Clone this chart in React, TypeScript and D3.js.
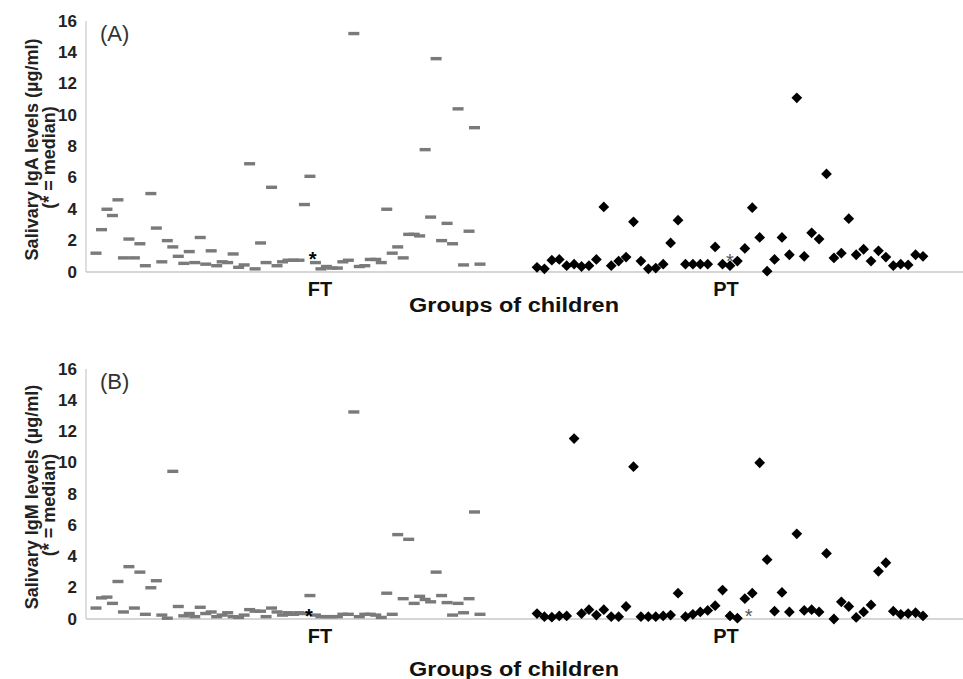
import * as d3 from 'd3';

// values, one entry per child
const FT_IGA = [
  1.2, 2.7, 4.0, 3.6, 4.6, 0.9, 2.1, 0.9, 1.8, 0.4,
  5.0, 2.8, 0.65, 2.0, 1.6, 1.0, 0.55, 1.3, 0.6, 2.2,
  0.5, 1.35, 0.4, 0.65, 0.6, 1.15, 0.3, 0.45, 6.9, 0.2,
  1.85, 0.6, 5.4, 0.4, 0.65, 0.75, 0.75, 0.75, 4.3, 6.1,
  0.6, 0.2, 0.35, 0.25, 0.25, 0.65, 0.75, 15.2, 0.35, 0.4,
  0.8, 0.8, 0.6, 4.0, 1.2, 1.6, 0.9, 2.4, 2.4, 2.3,
  7.8, 3.5, 13.6, 2.0, 3.1, 1.8, 10.4, 0.45, 2.6, 9.2,
  0.5,
];
const PT_IGA = [
  0.3, 0.2, 0.75, 0.8, 0.4, 0.5, 0.35, 0.4, 0.8, 4.15,
  0.4, 0.7, 0.95, 3.2, 0.7, 0.2, 0.25, 0.5, 1.85, 3.3,
  0.5, 0.5, 0.5, 0.5, 1.6, 0.5, 0.4, 0.7, 1.5, 4.1,
  2.2, 0.05, 0.8, 2.2, 1.1, 11.1, 1.0, 2.5, 2.1, 6.25,
  0.9, 1.2, 3.4, 1.1, 1.45, 0.7, 1.35, 0.95, 0.4, 0.5,
  0.45, 1.1, 1.0,
];
const FT_IGM = [
  0.7, 1.35, 1.4, 1.0, 2.4, 0.45, 3.35, 0.7, 3.0, 0.3,
  2.0, 2.45, 0.25, 0.05, 9.45, 0.8, 0.2, 0.35, 0.15, 0.75,
  0.35, 0.45, 0.15, 0.25, 0.4, 0.15, 0.1, 0.25, 0.6, 0.5,
  0.5, 0.15, 0.7, 0.45, 0.25, 0.4, 0.3, 0.4, 0.35, 1.5,
  0.25, 0.15, 0.15, 0.15, 0.15, 0.3, 0.3, 13.25, 0.15, 0.3,
  0.3, 0.25, 0.1, 1.65, 0.3, 5.4, 1.3, 5.1, 1.0, 1.45,
  1.25, 1.1, 3.0, 1.5, 1.05, 0.25, 1.0, 0.4, 1.3, 6.85,
  0.3,
];
const PT_IGM = [
  0.35, 0.15, 0.12, 0.2, 0.2, 11.55, 0.35, 0.6, 0.25, 0.6,
  0.15, 0.15, 0.8, 9.75, 0.15, 0.15, 0.15, 0.2, 0.25, 1.65,
  0.15, 0.3, 0.45, 0.55, 0.85, 1.85, 0.2, 0.05, 1.3, 1.65,
  10.0, 3.8, 0.5, 1.7, 0.45, 5.45, 0.55, 0.6, 0.45, 4.2,
  0.0, 1.1, 0.8, 0.1, 0.45, 0.9, 3.05, 3.6, 0.5, 0.3,
  0.35, 0.4, 0.2,
];

// where the "*" median markers sit: [FT, PT] as (child index, value)
const MEDIAN_IDX_A = [39.5, 26];
const MEDIAN_VAL_A = [1.1, 0.95];
const MEDIAN_IDX_B = [38.8, 28.5];
const MEDIAN_VAL_B = [0.45, 0.45];

const Y_TICKS = [0, 2, 4, 6, 8, 10, 12, 14, 16];
const GROUPS = ['FT', 'PT'];
const X_TITLE = 'Groups of children';

const WIDTH = 963;
const HEIGHT = 679;
const AXIS_X = 86;
const FONT = 'Arial, "Liberation Sans", Helvetica, sans-serif';

type PanelProps = {
  top: number; // pixel of value 16
  bottom: number; // pixel of value 0
  xTitleGap: number;
  letter: string;
  title: string;
  ft: number[];
  pt: number[];
  medIdx: number[];
  medVal: number[];
};

const Panel = ({ top, bottom, xTitleGap, letter, title, ft, pt, medIdx, medVal }: PanelProps) => {
  const yScale = d3.scaleLinear().domain([0, 16]).range([bottom, top]);
  const xFT = d3.scaleLinear().domain([0, ft.length - 1]).range([96, 480]);
  const xPT = d3.scaleLinear().domain([0, pt.length - 1]).range([537, 923]);
  const diamond = d3.symbol(d3.symbolSquare, 58)() as string;
  const mid = (top + bottom) / 2;

  return (
    <g>
      {/* axes */}
      <line x1={AXIS_X} x2={AXIS_X} y1={top} y2={bottom} stroke="#c9c9c9" strokeWidth={1.2} />
      <line x1={AXIS_X} x2={WIDTH} y1={bottom} y2={bottom} stroke="#c9c9c9" strokeWidth={1.5} />
      {Y_TICKS.map((t) => (
        <text
          key={t}
          x={77}
          y={yScale(t)}
          textAnchor="end"
          dominantBaseline="central"
          fontSize={17}
          fontWeight="bold"
          fill="#222"
        >
          {t}
        </text>
      ))}

      {/* y title, two lines */}
      <text
        transform={`translate(32, ${mid + 3}) rotate(-90)`}
        textAnchor="middle"
        dominantBaseline="central"
        fontSize={18}
        fontWeight="bold"
        fill="#222"
      >
        {title}
      </text>
      <text
        transform={`translate(49, ${mid + 11}) rotate(-90)`}
        textAnchor="middle"
        dominantBaseline="central"
        fontSize={18}
        fontWeight="bold"
        fill="#222"
      >
        (* = median)
      </text>

      <text x={100} y={top + 20} fontSize={22} fill="#333">
        {letter}
      </text>

      {/* FT dashes */}
      {ft.map((v, i) => (
        <rect key={`f${i}`} x={xFT(i) - 5.5} y={yScale(v) - 1.7} width={11} height={3.4} fill="#7a7a7a" />
      ))}
      {/* PT diamonds */}
      {pt.map((v, i) => (
        <path
          key={`p${i}`}
          d={diamond}
          transform={`translate(${xPT(i)}, ${yScale(v)}) rotate(45)`}
          fill="#000"
        />
      ))}

      {/* medians */}
      <text
        x={xFT(medIdx[0])}
        y={yScale(medVal[0]) + 11}
        textAnchor="middle"
        fontSize={20}
        fontWeight="bold"
        fill="#000"
      >
        *
      </text>
      <text
        x={xPT(medIdx[1])}
        y={yScale(medVal[1]) + 11}
        textAnchor="middle"
        fontSize={20}
        fill="#555"
      >
        *
      </text>

      {/* category labels */}
      <text x={320} y={bottom + 24} textAnchor="middle" fontSize={20} fontWeight="bold" fill="#111">
        {GROUPS[0]}
      </text>
      <text x={726} y={bottom + 24} textAnchor="middle" fontSize={20} fontWeight="bold" fill="#111">
        {GROUPS[1]}
      </text>
      <text
        x={514}
        y={bottom + xTitleGap}
        textAnchor="middle"
        fontSize={20}
        fontWeight="bold"
        fill="#111"
        textLength={210}
        lengthAdjust="spacingAndGlyphs"
      >
        {X_TITLE}
      </text>
    </g>
  );
};

export default function App() {
  return (
    <svg
      width={WIDTH}
      height={HEIGHT}
      style={{ position: 'absolute', left: 0, top: 0, background: '#fff' }}
      fontFamily={FONT}
    >
      <rect width={WIDTH} height={HEIGHT} fill="#fff" />
      <Panel
        top={21}
        bottom={272}
        xTitleGap={40}
        letter="(A)"
        title="Salivary IgA levels (µg/ml)"
        ft={FT_IGA}
        pt={PT_IGA}
        medIdx={MEDIAN_IDX_A}
        medVal={MEDIAN_VAL_A}
      />
      <Panel
        top={369}
        bottom={619}
        xTitleGap={57}
        letter="(B)"
        title="Salivary IgM levels (µg/ml)"
        ft={FT_IGM}
        pt={PT_IGM}
        medIdx={MEDIAN_IDX_B}
        medVal={MEDIAN_VAL_B}
      />
    </svg>
  );
}
